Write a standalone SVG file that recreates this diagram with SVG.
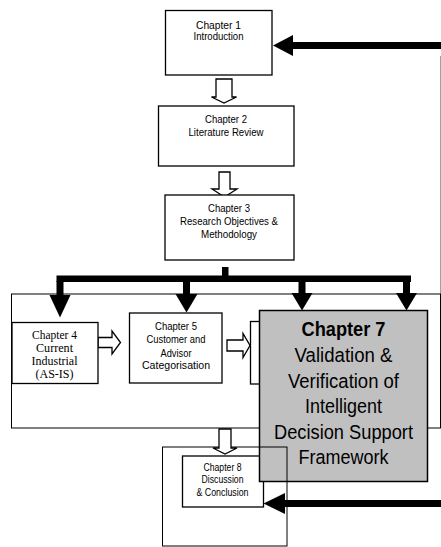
<svg xmlns="http://www.w3.org/2000/svg" width="441" height="547" viewBox="0 0 441 547">
  <style>
    .box { fill: #ffffff; stroke: #000000; stroke-width: 1.3; }
    .frame { fill: none; stroke: #000000; stroke-width: 1; }
    .hollow { fill: #ffffff; stroke: #000000; stroke-width: 1.3; stroke-linejoin: miter; }
    .solid { fill: #000000; stroke: none; }
    .t { font-family: "Liberation Sans", Arial, sans-serif; font-size: 11.5px; fill: #000000; text-anchor: middle; }
    .ts { font-family: "Liberation Sans", Arial, sans-serif; font-size: 10px; fill: #000000; text-anchor: middle; }
    .tr { font-family: "Liberation Serif", "Times New Roman", serif; font-size: 12px; fill: #000000; text-anchor: middle; }
    .tb { font-family: "Liberation Sans", Arial, sans-serif; font-size: 20.5px; fill: #000000; text-anchor: middle; }
  </style>

  <rect width="441" height="547" fill="#ffffff"/>

  <!-- frame around chapters 4 to 7 -->
  <g id="section-frame">
    <line x1="440.5" y1="56" x2="440.5" y2="294" stroke="#a0a0a0" stroke-width="1"/>
    <rect class="frame" x="11.5" y="294" width="429" height="134"/>
  </g>

  <!-- connectors -->
  <g id="connectors">
    <!-- block arrows between chapters -->
    <path class="hollow" d="M216,79 H232 V97 H236.5 L224,103 L211.5,97 H216 Z"/>
    <path class="hollow" d="M219,172 H230 V189 H237 L224.5,197 L212,189 H219 Z"/>
    <path class="hollow" d="M98,337.5 H112 V331 L120.5,342.5 L112,354 V347.5 H98 Z"/>
    <path class="hollow" d="M227,340 H243 V333.5 L250,345.5 L243,357.5 V351 H227 Z"/>

    <!-- distribution from chapter 3 -->
    <rect class="solid" x="222" y="267" width="6.5" height="10"/>
    <rect class="solid" x="56.5" y="275.5" width="354.5" height="6.5"/>
    <rect class="solid" x="56.5" y="281" width="7" height="15"/>
    <rect class="solid" x="183" y="281" width="7" height="15"/>
    <rect class="solid" x="298.5" y="281" width="7" height="14"/>
    <rect class="solid" x="403" y="281" width="7" height="14"/>
    <polygon class="solid" points="49.5,295 70.5,295 60,317.5"/>
    <polygon class="solid" points="175.5,294 197.5,294 186.5,312.5"/>
    <polygon class="solid" points="291.5,293 312.5,293 302,310.5"/>
    <polygon class="solid" points="396,293 417,293 406.5,310.5"/>

    <!-- feedback arrows -->
    <rect class="solid" x="292" y="42" width="149" height="7"/>
    <polygon class="solid" points="273,45.5 293,35 293,56"/>
    <rect class="solid" x="284" y="500" width="157" height="7"/>
    <polygon class="solid" points="263.5,503.5 285,493 285,514"/>
  </g>

  <g id="chapter1">
    <rect class="box" x="165.5" y="10.5" width="106.5" height="64.5"/>
    <text class="t" x="218.5" y="28.5" textLength="45" lengthAdjust="spacingAndGlyphs">Chapter 1</text>
    <text class="t" x="218.5" y="40" textLength="50" lengthAdjust="spacingAndGlyphs">Introduction</text>
  </g>

  <g id="chapter2">
    <rect class="box" x="158.5" y="106" width="135.5" height="60"/>
    <text class="t" x="226" y="122.5" textLength="42" lengthAdjust="spacingAndGlyphs">Chapter 2</text>
    <text class="t" x="226" y="136" textLength="75" lengthAdjust="spacingAndGlyphs">Literature Review</text>
  </g>

  <g id="chapter3">
    <rect class="box" x="165" y="195" width="129" height="65"/>
    <text class="t" x="229" y="211.5" textLength="42" lengthAdjust="spacingAndGlyphs">Chapter 3</text>
    <text class="t" x="229" y="225" textLength="98" lengthAdjust="spacingAndGlyphs">Research Objectives &amp;</text>
    <text class="t" x="229" y="237.5" textLength="56" lengthAdjust="spacingAndGlyphs">Methodology</text>
  </g>

  <g id="chapter4">
    <rect class="box" x="12" y="322.5" width="86" height="61"/>
    <text class="tr" x="54.5" y="339" textLength="45" lengthAdjust="spacingAndGlyphs">Chapter 4</text>
    <text class="tr" x="54.5" y="352" textLength="37" lengthAdjust="spacingAndGlyphs">Current</text>
    <text class="tr" x="54.5" y="365" textLength="46" lengthAdjust="spacingAndGlyphs">Industrial</text>
    <text class="tr" x="54.5" y="378" textLength="38" lengthAdjust="spacingAndGlyphs">(AS-IS)</text>
  </g>

  <g id="chapter5">
    <rect class="box" x="129.5" y="313" width="92.5" height="70"/>
    <text class="t" x="176" y="329.5" textLength="42" lengthAdjust="spacingAndGlyphs">Chapter 5</text>
    <text class="t" x="176" y="343" textLength="59" lengthAdjust="spacingAndGlyphs">Customer and</text>
    <text class="t" x="176" y="356.5" textLength="31" lengthAdjust="spacingAndGlyphs">Advisor</text>
    <text class="t" x="176" y="369" textLength="68" lengthAdjust="spacingAndGlyphs">Categorisation</text>
  </g>

  <g id="chapter6">
    <rect class="box" x="250.5" y="321.5" width="20" height="62.5"/>
  </g>

  <g id="chapter8">
    <rect class="box" x="182.5" y="456" width="81" height="51"/>
    <text class="ts" x="222.5" y="471" textLength="38" lengthAdjust="spacingAndGlyphs">Chapter 8</text>
    <text class="ts" x="222.5" y="483" textLength="42" lengthAdjust="spacingAndGlyphs">Discussion</text>
    <text class="ts" x="222.5" y="495.5" textLength="52" lengthAdjust="spacingAndGlyphs">&amp; Conclusion</text>
  </g>

  <g id="chapter7">
    <rect x="259.5" y="310.5" width="168" height="171" fill="#c0c0c0" stroke="#000000" stroke-width="1.5"/>
    <text class="tb" x="343.5" y="336" font-weight="bold" textLength="84" lengthAdjust="spacingAndGlyphs">Chapter 7</text>
    <text class="tb" x="343.5" y="361.5" textLength="98" lengthAdjust="spacingAndGlyphs">Validation &amp;</text>
    <text class="tb" x="343.5" y="387.5" textLength="111" lengthAdjust="spacingAndGlyphs">Verification of</text>
    <text class="tb" x="343.5" y="413" textLength="77" lengthAdjust="spacingAndGlyphs">Intelligent</text>
    <text class="tb" x="343.5" y="439" textLength="139" lengthAdjust="spacingAndGlyphs">Decision Support</text>
    <text class="tb" x="343.5" y="464" textLength="90" lengthAdjust="spacingAndGlyphs">Framework</text>
  </g>

  <!-- frame around chapter 8, drawn over chapter 7 -->
  <g id="conclusion-frame">
    <rect class="frame" x="162.5" y="447" width="124.5" height="99" stroke-width="1.3"/>
  </g>

  <!-- block arrow into the conclusion frame -->
  <g id="connector-to-chapter8">
    <path class="hollow" d="M219,429 H231 V448 H237 L225,454 L213,448 H219 Z"/>
  </g>
</svg>
